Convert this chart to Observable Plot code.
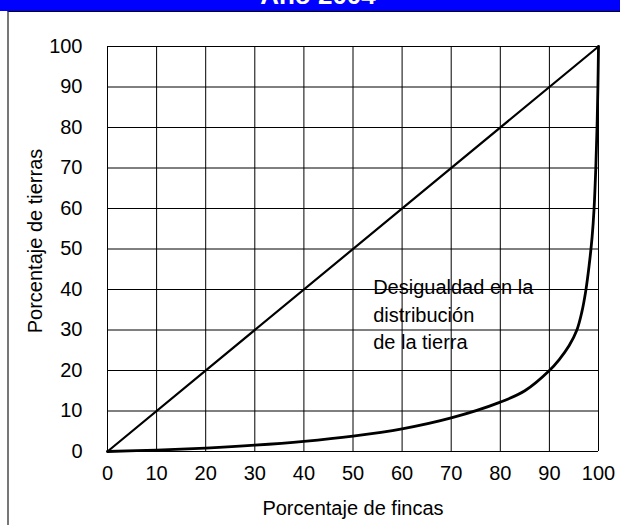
<!DOCTYPE html>
<html>
<head>
<meta charset="utf-8">
<script src="https://cdn.jsdelivr.net/npm/d3@7"></script>
<script src="https://cdn.jsdelivr.net/npm/@observablehq/plot@0.6"></script>
<style>
  html, body { margin: 0; padding: 0; background: #fff; }
  body { width: 620px; height: 525px; overflow: hidden; font-family: "Liberation Sans", Arial, sans-serif; }
  #band { position: relative; height: 11px; background: #0000ff; overflow: hidden; }
  #band span { position: absolute; left: 16px; right: 0; top: -18px; text-align: center;
    color: #fff; font-weight: bold; font-size: 26px; line-height: 26px; font-family: "Liberation Sans", Arial, sans-serif; }
  #frame { margin-left: 7px; border-top: 1px solid #000; border-left: 2px solid #777; height: 513px; }
  svg { display: block; }
</style>
</head>
<body>
<div id="band"><span>Año 2004</span></div>
<div id="frame"></div>
<script>
const title = "Año 2004";
const xLabel = "Porcentaje de fincas";
const yLabel = "Porcentaje de tierras";
const annotation = "Desigualdad en la\ndistribución\nde la tierra";
const xTicks = [0, 10, 20, 30, 40, 50, 60, 70, 80, 90, 100];
const yTicks = [0, 10, 20, 30, 40, 50, 60, 70, 80, 90, 100];
// Equality line
const equalX = [0, 100];
const equalY = [0, 100];
// Lorenz curve
const lorenzX = [0, 10, 20, 30, 40, 50, 60, 70, 80, 85, 90, 92, 94, 95.6, 96.6, 97.4, 98.1, 98.7, 99.1, 99.45, 99.7, 99.88, 100];
const lorenzY = [0, 0.35, 0.85, 1.55, 2.5, 3.8, 5.6, 8.3, 12.2, 15, 20, 22.7, 26.1, 30, 34.4, 39.6, 46, 53, 60, 70, 80, 90, 100];

const equal = equalX.map((x, i) => ({x, y: equalY[i]}));
const lorenz = lorenzX.map((x, i) => ({x, y: lorenzY[i]}));

const chart = Plot.plot({
  width: 611,
  height: 513,
  marginLeft: 98,
  marginRight: 22,
  marginTop: 34,
  marginBottom: 74,
  style: {fontFamily: "'Liberation Sans', Arial, sans-serif", fontSize: "20px", color: "#000", background: "#fff", overflow: "visible"},
  x: {domain: [0, 100], ticks: xTicks, tickSize: 0, tickPadding: 14, label: null},
  y: {domain: [0, 100], ticks: yTicks, tickSize: 0, tickPadding: 25, label: null},
  marks: [
    Plot.ruleX(xTicks, {stroke: "#000", strokeWidth: 1}),
    Plot.ruleY(yTicks, {stroke: "#000", strokeWidth: 1}),
    Plot.line(equal, {x: "x", y: "y", stroke: "#000", strokeWidth: 2.2}),
    Plot.line(lorenz, {x: "x", y: "y", stroke: "#000", strokeWidth: 2.8, curve: "catmull-rom"}),
    Plot.text([annotation], {x: 54.1, y: 43.6, text: d => d, textAnchor: "start", lineAnchor: "top", lineHeight: 1.37, fill: "#000"}),
    Plot.text([xLabel], {frameAnchor: "bottom", textAnchor: "middle", lineAnchor: "middle", dy: 57, text: d => d, fill: "#000"}),
    Plot.text([yLabel], {frameAnchor: "left", textAnchor: "middle", lineAnchor: "middle", rotate: -90, dx: -72, dy: -8, text: d => d, fill: "#000"})
  ]
});
document.getElementById("frame").appendChild(chart);
</script>
</body>
</html>
